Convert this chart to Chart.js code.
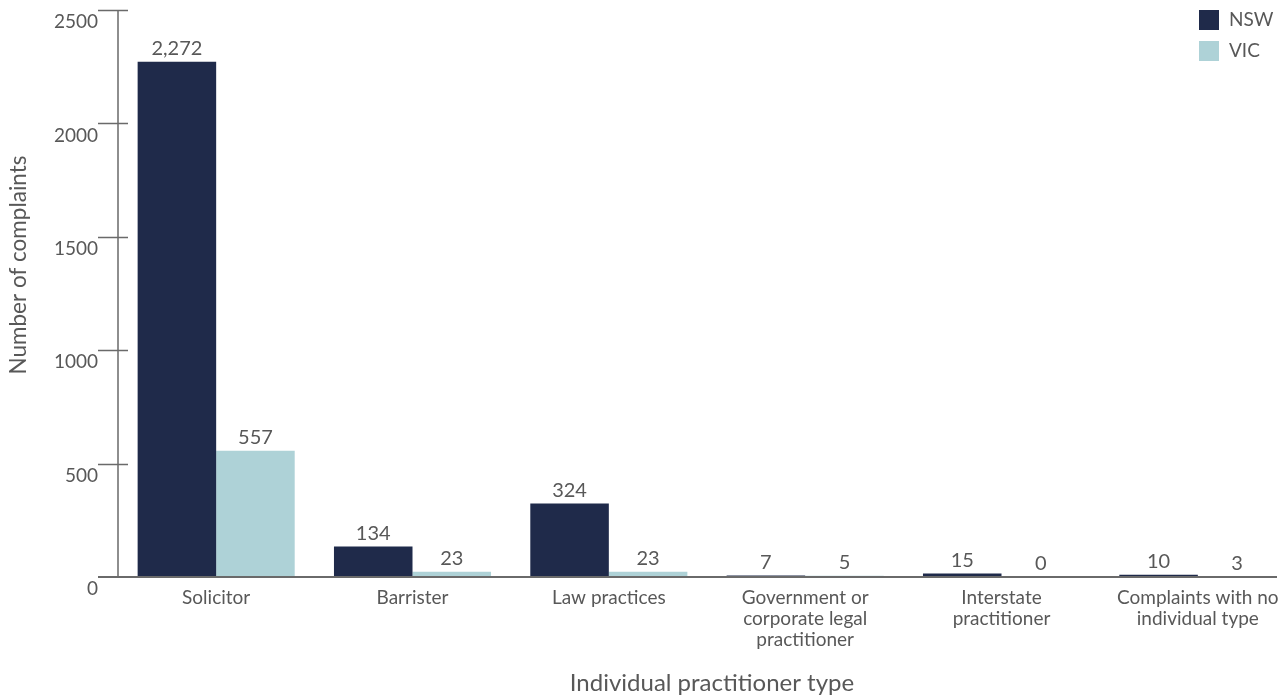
<!DOCTYPE html>
<html>
<head>
<meta charset="utf-8">
<script src="https://cdn.jsdelivr.net/npm/chart.js@4/dist/chart.umd.min.js"></script>
<style>
  html, body { margin: 0; padding: 0; background: #ffffff; overflow: hidden; }
  #wrap { position: relative; width: 1296px; height: 695px; }
</style>
</head>
<body>
<div id="wrap"><canvas id="chart"></canvas></div>
<script>
// Complaints by individual practitioner type
const categories = [
  'Solicitor',
  'Barrister',
  'Law practices',
  ['Government or', 'corporate legal', 'practitioner'],
  ['Interstate', 'practitioner'],
  ['Complaints with no', 'individual type']
];
const nswValues = [2272, 134, 324, 7, 15, 10];
const vicValues = [557, 23, 23, 5, 0, 3];
const yTicks = [0, 500, 1000, 1500, 2000, 2500];

const FONT = 'Lato, "Open Sans", sans-serif';
const TEXT = '#585858';
const AXIS = '#6a6a6a';

// Axis lines, crossing tick marks, axis titles, value labels and legend
const decorations = {
  id: 'decorations',
  afterDatasetsDraw(chart) {
    const { ctx, chartArea, scales } = chart;
    const y = scales.y;
    const y0 = y.getPixelForValue(0);
    ctx.save();

    // y axis line and ticks
    ctx.strokeStyle = AXIS;
    ctx.lineWidth = 1.5;
    ctx.beginPath();
    ctx.moveTo(chartArea.left, y.getPixelForValue(yTicks[yTicks.length - 1]));
    ctx.lineTo(chartArea.left, y0);
    yTicks.forEach(v => {
      if (v === 0) return;
      const py = Math.round(y.getPixelForValue(v)) + 0.5;
      ctx.moveTo(chartArea.left - 20, py);
      ctx.lineTo(chartArea.left + 10, py);
    });
    ctx.stroke();

    // x axis line
    ctx.lineWidth = 2;
    ctx.beginPath();
    ctx.moveTo(chartArea.left - 20, y0);
    ctx.lineTo(1277, y0);
    ctx.stroke();

    // value labels above bars
    ctx.fillStyle = TEXT;
    ctx.font = '20px ' + FONT;
    ctx.textAlign = 'center';
    ctx.textBaseline = 'bottom';
    chart.data.datasets.forEach((ds, i) => {
      const meta = chart.getDatasetMeta(i);
      meta.data.forEach((bar, j) => {
        ctx.fillText(ds.data[j].toLocaleString('en-US'), bar.x, bar.y - 3);
      });
    });

    // axis titles
    ctx.font = '24px ' + FONT;
    ctx.textBaseline = 'middle';
    ctx.fillText('Individual practitioner type', 712, 683);
    ctx.save();
    ctx.translate(19, 265);
    ctx.rotate(-Math.PI / 2);
    ctx.font = '22.5px ' + FONT;
    ctx.fillText('Number of complaints', 0, 0);
    ctx.restore();

    // legend
    ctx.font = '19px ' + FONT;
    ctx.textAlign = 'left';
    chart.data.datasets.forEach((ds, i) => {
      const top = 10 + i * 31;
      ctx.fillStyle = ds.backgroundColor;
      ctx.fillRect(1199, top, 20, 20);
      ctx.fillStyle = TEXT;
      ctx.fillText(ds.label, 1229, top + 10);
    });
    ctx.restore();
  }
};

new Chart(document.getElementById('chart'), {
  type: 'bar',
  data: {
    labels: categories,
    datasets: [
      { label: 'NSW', data: nswValues, backgroundColor: '#1f2a4a' },
      { label: 'VIC', data: vicValues, backgroundColor: '#aed2d7' }
    ]
  },
  options: {
    responsive: true,
    maintainAspectRatio: false,
    animation: false,
    layout: { padding: { top: 10, right: 0, left: 0, bottom: 0 } },
    datasets: { bar: { categoryPercentage: 0.8, barPercentage: 1.0 } },
    plugins: { legend: { display: false }, tooltip: { enabled: false } },
    scales: {
      x: {
        grid: { display: false, drawTicks: false },
        border: { display: false },
        ticks: {
          color: TEXT,
          font: { family: FONT, size: 19, lineHeight: 1.12 },
          padding: 10,
          maxRotation: 0,
          autoSkip: false
        },
        afterFit(scale) {
          scale.height = 118;
          scale.paddingLeft = 0;
          scale.paddingRight = 0;
        }
      },
      y: {
        min: 0,
        max: 2500,
        afterBuildTicks(scale) { scale.ticks = yTicks.map(v => ({ value: v })); },
        grid: { display: false, drawTicks: false },
        border: { display: false },
        ticks: {
          color: TEXT,
          font: { family: FONT, size: 19 },
          padding: 20,
          labelOffset: 12,
          callback: v => String(v)
        },
        afterFit(scale) {
          scale.width = 118;
          scale.paddingTop = 0;
          scale.paddingBottom = 0;
        }
      }
    }
  },
  plugins: [decorations]
});
</script>
</body>
</html>
